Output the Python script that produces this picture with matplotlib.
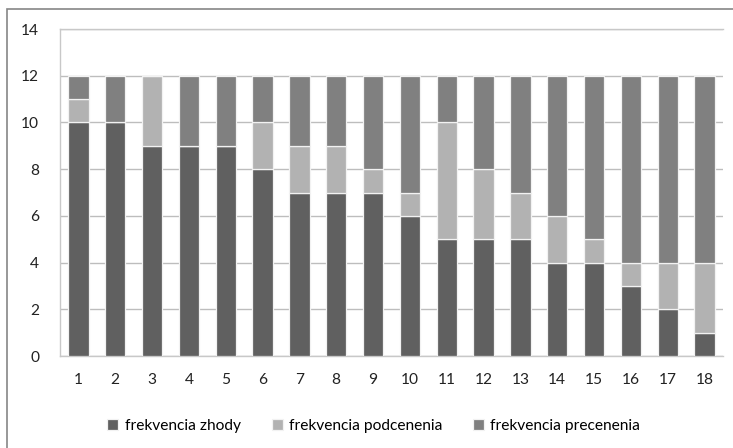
# stacked bar chart: frekvencia zhody / podcenenia / precenenia
import numpy as np
import matplotlib.pyplot as plt
from matplotlib.patches import Rectangle

plt.rcParams['font.family'] = ['Lato', 'DejaVu Sans']

# data
categories = [str(i) for i in range(1, 19)]
zhody      = [10, 10, 9, 9, 9, 8, 7, 7, 7, 6, 5, 5, 5, 4, 4, 3, 2, 1]
podcenenia = [1, 0, 3, 0, 0, 2, 2, 2, 1, 1, 5, 3, 2, 2, 1, 1, 2, 3]
precenenia = [1, 2, 0, 3, 3, 2, 3, 3, 4, 5, 2, 4, 5, 6, 7, 8, 8, 8]
series_names = ['frekvencia zhody', 'frekvencia podcenenia', 'frekvencia precenenia']
colors = ['#606060', '#b2b2b2', '#808080']

fig = plt.figure(figsize=(7.33, 4.48), dpi=100)
ax = fig.add_axes([60/733, 1 - 356/448, 663/733, 327/448])

# outer chart border
fig.patches.append(Rectangle((7/733, -0.1), 1.1, 1 - 9/448 + 0.1,
                             transform=fig.transFigure, fill=False,
                             edgecolor='#868686', linewidth=1.2))

x = np.arange(len(categories))
bottom = np.zeros(len(categories))
for vals, name, c in zip([zhody, podcenenia, precenenia], series_names, colors):
    ax.bar(x, vals, width=0.55, bottom=bottom, color=c, edgecolor='#f2f2f2',
           linewidth=0.9, label=name, zorder=3)
    bottom += np.array(vals)

ax.set_xlim(-0.5, len(categories) - 0.5)
ax.set_ylim(0, 14)
ax.set_yticks(range(0, 15, 2))
ax.set_xticks(x)
ax.set_xticklabels(categories)
ax.yaxis.grid(True, color='#bdbdbd', linewidth=1.0, zorder=0)
ax.set_axisbelow(True)
ax.tick_params(axis='both', length=0, labelsize=11.2, colors='#222222')
ax.tick_params(axis='y', pad=15)
ax.tick_params(axis='x', pad=12)
for s in ax.spines.values():
    s.set_color('#c8c8c8')
    s.set_linewidth(1.0)
ax.spines['right'].set_visible(False)

fig.legend(loc='center', bbox_to_anchor=(0.51, 1 - 426/448), ncol=3, frameon=False,
           fontsize=11.2, handlelength=0.7, handleheight=0.7, handletextpad=0.4,
           columnspacing=2.0)

fig.savefig('out.png', dpi=100)
